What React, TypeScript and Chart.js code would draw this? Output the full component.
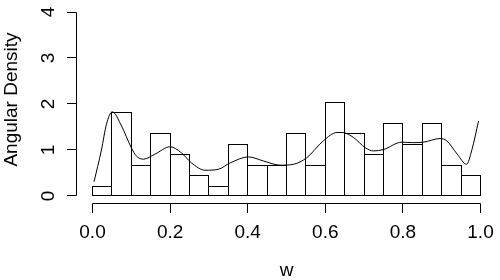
import React, { useEffect, useRef } from "react";
import { Chart, registerables } from "chart.js";

Chart.register(...registerables);

// Histogram bins (mid-points) and densities
const binMids = [
  0.025, 0.075, 0.125, 0.175, 0.225, 0.275, 0.325, 0.375, 0.425, 0.475,
  0.525, 0.575, 0.625, 0.675, 0.725, 0.775, 0.825, 0.875, 0.925, 0.975,
];
const histDensity = [
  0.2273, 1.8182, 0.6818, 1.3636, 0.9091, 0.4545, 0.2273, 1.1364, 0.6818, 0.6818,
  1.3636, 0.6818, 2.0455, 1.3636, 0.9091, 1.5909, 1.1364, 1.5909, 0.6818, 0.4545,
];

// Kernel density curve
const curveX = [
  0.004, 0.023, 0.036, 0.051, 0.075, 0.1, 0.113, 0.131, 0.161, 0.2,
  0.229, 0.255, 0.29, 0.324, 0.355, 0.402, 0.441, 0.484, 0.518, 0.552,
  0.595, 0.63, 0.645, 0.673, 0.703, 0.724, 0.75, 0.797, 0.825, 0.853,
  0.896, 0.913, 0.94, 0.964, 0.978, 0.995,
];
const curveY = [
  0.31, 1.0, 1.56, 1.83, 1.52, 1.05, 0.87, 0.8, 0.91, 1.07,
  0.94, 0.72, 0.56, 0.58, 0.72, 0.85, 0.76, 0.67, 0.69, 0.83,
  1.2, 1.38, 1.38, 1.27, 1.05, 0.98, 1.01, 1.17, 1.16, 1.17,
  1.25, 1.2, 0.91, 0.69, 1.01, 1.63,
];

const xTicks = [0, 0.2, 0.4, 0.6, 0.8, 1.0];
const xTickLabels = ["0.0", "0.2", "0.4", "0.6", "0.8", "1.0"];
const yTicks = [0, 1, 2, 3, 4];
const yTickLabels = ["0", "1", "2", "3", "4"];
const xTitle = "w";
const yTitle = "Angular Density";

const FONT = '19px "Liberation Sans", Arial, sans-serif';

export default function App() {
  const ref = useRef<HTMLCanvasElement>(null);

  useEffect(() => {
    document.body.style.margin = "0";
    const canvas = ref.current;
    if (!canvas) return;

    // snap bar edges to whole pixels so outlines are crisp, like R's output
    const snapPlugin = {
      id: "snapBars",
      beforeDatasetDraw(chart: any, args: any) {
        const meta = args.meta;
        if (meta.type !== "bar") return;
        meta.data.forEach((el: any) => {
          const l = Math.round(el.x - el.width / 2);
          const r = Math.round(el.x + el.width / 2);
          el.x = (l + r) / 2;
          el.width = r - l;
          el.y = Math.round(el.y);
          el.base = Math.round(el.base);
        });
      },
    };

    const axesPlugin = {
      id: "rAxes",
      afterDraw(chart: any) {
        const { ctx, chartArea } = chart;
        const xs = chart.scales.x;
        const ys = chart.scales.y;
        const ax = Math.floor(chartArea.left) + 0.5;
        const ay = Math.floor(chartArea.bottom) + 0.5;
        const px = (v: number) => Math.floor(xs.getPixelForValue(v)) + 0.5;
        const py = (v: number) => Math.ceil(ys.getPixelForValue(v)) - 0.5;
        ctx.save();
        ctx.strokeStyle = "#000";
        ctx.lineWidth = 1;
        ctx.beginPath();
        // x axis
        ctx.moveTo(px(xTicks[0]), ay);
        ctx.lineTo(px(xTicks[xTicks.length - 1]), ay);
        xTicks.forEach((v) => {
          ctx.moveTo(px(v), ay);
          ctx.lineTo(px(v), ay + 9.5);
        });
        // y axis
        ctx.moveTo(ax, py(yTicks[0]));
        ctx.lineTo(ax, py(yTicks[yTicks.length - 1]));
        yTicks.forEach((v) => {
          ctx.moveTo(ax, py(v));
          ctx.lineTo(ax - 9.5, py(v));
        });
        ctx.stroke();

        ctx.fillStyle = "#000";
        ctx.font = FONT;
        ctx.textAlign = "center";
        ctx.textBaseline = "alphabetic";
        xTicks.forEach((v, i) => {
          ctx.fillText(xTickLabels[i], xs.getPixelForValue(v), ay + 34);
        });
        ctx.fillText(xTitle, (xs.getPixelForValue(0) + xs.getPixelForValue(1)) / 2, ay + 72.5);

        yTicks.forEach((v, i) => {
          ctx.save();
          ctx.translate(ax - 23, ys.getPixelForValue(v));
          ctx.rotate(-Math.PI / 2);
          ctx.fillText(yTickLabels[i], 0, 0);
          ctx.restore();
        });
        ctx.save();
        ctx.translate(16.5, (chartArea.top + chartArea.bottom) / 2 - 4.5);
        ctx.rotate(-Math.PI / 2);
        ctx.fillText(yTitle, 0, 0);
        ctx.restore();
        ctx.restore();
      },
    };

    const binWidth = binMids[1] - binMids[0];
    const chart = new Chart(canvas, {
      type: "bar",
      data: {
        datasets: [
          {
            type: "line",
            data: curveX.map((x, i) => ({ x, y: curveY[i] })),
            borderColor: "#000",
            borderWidth: 1,
            pointRadius: 0,
            fill: false,
            cubicInterpolationMode: "monotone",
            order: 0,
          } as any,
          {
            type: "bar",
            data: binMids.map((x, i) => ({ x, y: histDensity[i] })),
            backgroundColor: "#fff",
            borderColor: "#000",
            borderWidth: 1,
            borderSkipped: false,
            categoryPercentage: 1,
            barPercentage: (binWidth * 388 + 1) / (binWidth * 388),
            order: 1,
          } as any,
        ],
      },
      options: {
        animation: false,
        responsive: false,
        devicePixelRatio: 1,
        layout: {
          padding: { left: 76.98, right: 3.98, top: 4.64, bottom: 76.64 },
        },
        scales: {
          x: { type: "linear", min: -0.04, max: 1.04, offset: false, display: false },
          y: { type: "linear", min: -0.16, max: 4.16, display: false },
        },
        plugins: {
          legend: { display: false },
          tooltip: { enabled: false },
        },
      },
      plugins: [snapPlugin, axesPlugin],
    });

    return () => chart.destroy();
  }, []);

  return (
    <canvas
      ref={ref}
      width={500}
      height={280}
      style={{ display: "block", width: 500, height: 280 }}
    />
  );
}
